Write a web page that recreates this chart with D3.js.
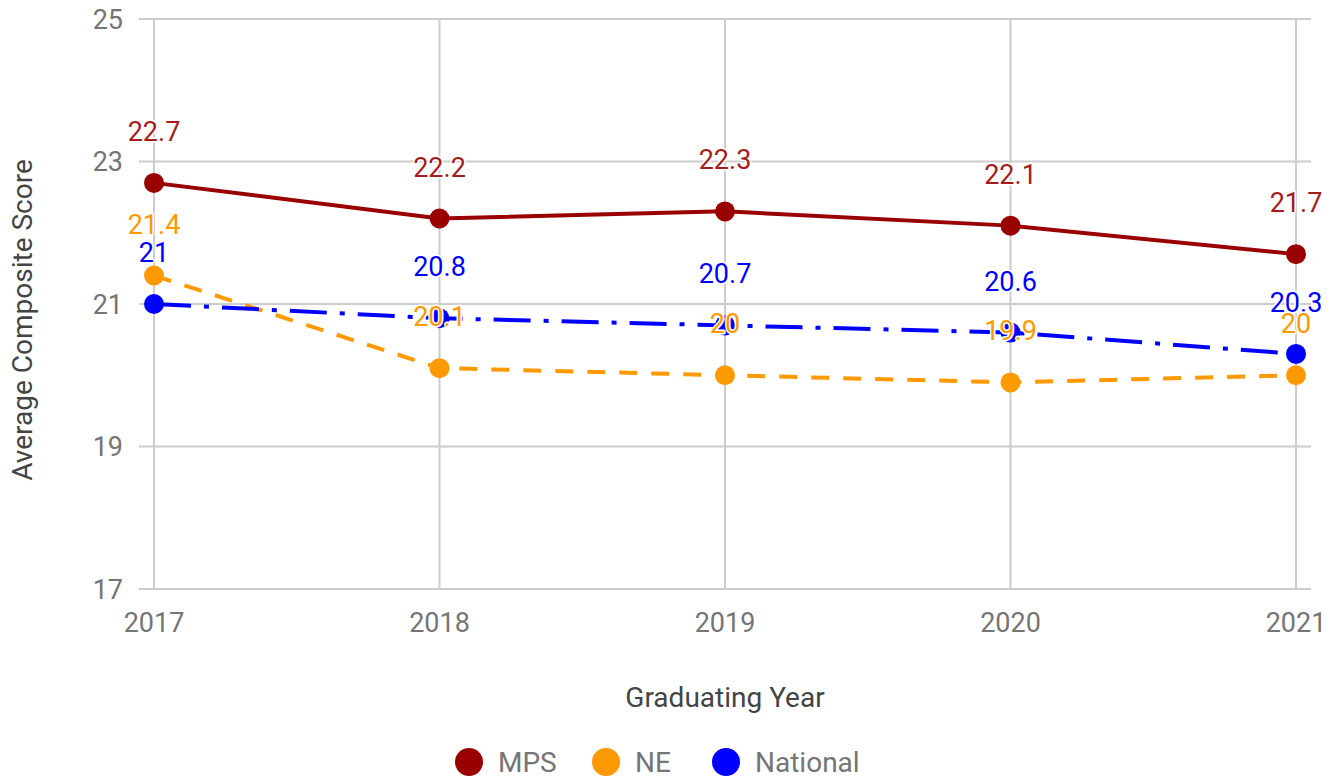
<!DOCTYPE html>
<html>
<head>
<meta charset="utf-8">
<script src="https://cdn.jsdelivr.net/npm/d3@7"></script>
<style>
  html, body { margin: 0; padding: 0; background: #fff; }
  svg { display: block; font-family: Roboto, "Noto Sans", sans-serif; }
</style>
</head>
<body>
<svg id="chart" width="1339" height="778"></svg>
<script>
// Graduating years on the x axis
const years = ["2017", "2018", "2019", "2020", "2021"];

// Average composite score per series
const mpsScores = [22.7, 22.2, 22.3, 22.1, 21.7];
const neScores = [21.4, 20.1, 20.0, 19.9, 20.0];
const nationalScores = [21.0, 20.8, 20.7, 20.6, 20.3];

// Y axis tick values
const yTicks = [17, 19, 21, 23, 25];

const seriesNames = ["MPS", "NE", "National"];
const seriesColors = ["#990000", "#ff9900", "#0000ff"];
const seriesDash = [null, "18,14", "37,13,5,13"];

const series = [
  { name: seriesNames[0], values: mpsScores, color: seriesColors[0], dash: seriesDash[0], labelColor: "#a61c1c" },
  { name: seriesNames[1], values: neScores, color: seriesColors[1], dash: seriesDash[1], labelColor: seriesColors[1] },
  { name: seriesNames[2], values: nationalScores, color: seriesColors[2], dash: seriesDash[2], labelColor: seriesColors[2] }
];

const svg = d3.select("#chart");

const x = d3.scalePoint().domain(years).range([154, 1296]);
const y = d3.scaleLinear().domain([17, 25]).range([589, 19]);
const gridLeft = 139, gridRight = 1311;

// Horizontal gridlines
svg.append("g").selectAll("line").data(yTicks).join("line")
  .attr("x1", gridLeft).attr("x2", gridRight)
  .attr("y1", d => y(d)).attr("y2", d => y(d))
  .attr("stroke", "#cccccc").attr("stroke-width", 2);

// Vertical gridlines
svg.append("g").selectAll("line").data(years).join("line")
  .attr("x1", d => x(d)).attr("x2", d => x(d))
  .attr("y1", y(25)).attr("y2", y(17))
  .attr("stroke", "#cccccc").attr("stroke-width", 2);

// Y tick labels
svg.append("g").selectAll("text").data(yTicks).join("text")
  .attr("x", 123).attr("y", d => y(d))
  .attr("dy", "0.36em")
  .attr("text-anchor", "end")
  .attr("font-size", 27)
  .attr("fill", "#757575")
  .text(d => d);

// X tick labels
svg.append("g").selectAll("text").data(years).join("text")
  .attr("x", d => x(d)).attr("y", 622)
  .attr("dy", "0.36em")
  .attr("text-anchor", "middle")
  .attr("font-size", 27)
  .attr("fill", "#757575")
  .text(d => d);

// Axis titles
svg.append("text")
  .attr("x", 725).attr("y", 697).attr("dy", "0.36em")
  .attr("text-anchor", "middle")
  .attr("font-size", 28)
  .attr("fill", "#444444")
  .text("Graduating Year");

svg.append("text")
  .attr("transform", "translate(22,320) rotate(-90)")
  .attr("dy", "0.36em")
  .attr("text-anchor", "middle")
  .attr("font-size", 28)
  .attr("fill", "#444444")
  .text("Average Composite Score");

// Lines
const line = d3.line().x((d, i) => x(years[i])).y(d => y(d));
svg.append("g").selectAll("path").data(series).join("path")
  .attr("d", s => line(s.values))
  .attr("fill", "none")
  .attr("stroke", s => s.color)
  .attr("stroke-width", 4)
  .attr("stroke-dasharray", s => s.dash);

// Points
series.forEach(s => {
  svg.append("g").selectAll("circle").data(s.values).join("circle")
    .attr("cx", (d, i) => x(years[i]))
    .attr("cy", d => y(d))
    .attr("r", 10)
    .attr("fill", s.color);
});

// Value labels (white halo under the text)
[series[0], series[2], series[1]].forEach(s => {
  svg.append("g").selectAll("text").data(s.values).join("text")
    .attr("x", (d, i) => x(years[i]))
    .attr("y", d => y(d) - 42)
    .attr("text-anchor", "middle")
    .attr("font-size", 27)
    .attr("fill", s.labelColor)
    .attr("stroke", "#fff")
    .attr("stroke-width", 3)
    .attr("paint-order", "stroke")
    .attr("stroke-linejoin", "round")
    .text(d => d3.format("")(d));
});

// Legend
const legendItems = [
  { name: seriesNames[0], color: seriesColors[0], cx: 469 },
  { name: seriesNames[1], color: seriesColors[1], cx: 606 },
  { name: seriesNames[2], color: seriesColors[2], cx: 726 }
];
const legend = svg.append("g");
legend.selectAll("circle").data(legendItems).join("circle")
  .attr("cx", d => d.cx).attr("cy", 762).attr("r", 14)
  .attr("fill", d => d.color);
legend.selectAll("text").data(legendItems).join("text")
  .attr("x", d => d.cx + 29).attr("y", 762).attr("dy", "0.36em")
  .attr("font-size", 28)
  .attr("fill", "#757575")
  .text(d => d.name);
</script>
</body>
</html>
